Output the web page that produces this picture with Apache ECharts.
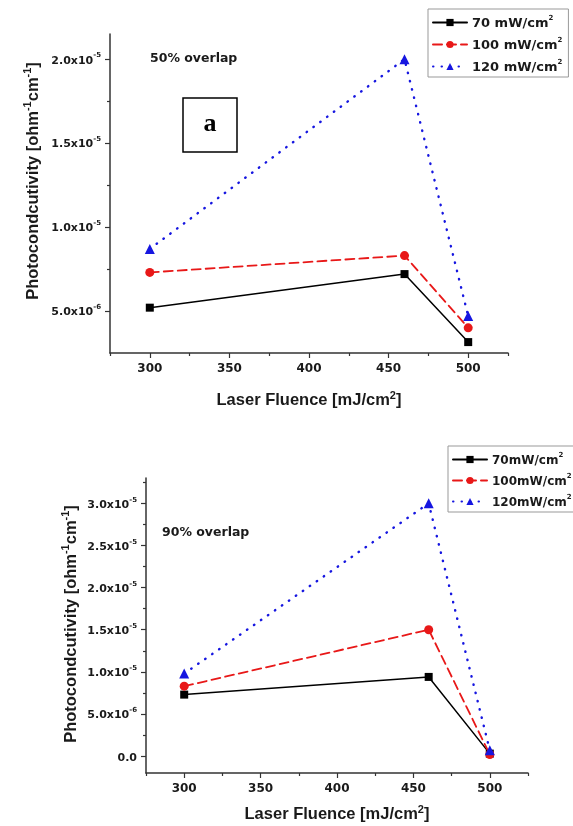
<!DOCTYPE html>
<html>
<head>
<meta charset="utf-8">
<script src="https://cdn.jsdelivr.net/npm/echarts@6/dist/echarts.min.js"></script>
<style>
  html, body { margin: 0; padding: 0; background: #fff; }
  #chart { width: 573px; height: 826px; }
</style>
</head>
<body>
<div id="chart"></div>
<script>
// x values (laser fluence, mJ/cm2)
const fluence = [300, 460, 500]

// (a) 50% overlap
const p70a = [5.2e-6, 7.2e-6, 3.15e-6]
const p100a = [7.3e-6, 8.3e-6, 4.0e-6]
const p120a = [8.7e-6, 2.0e-5, 4.7e-6]

// 90% overlap
const p70b = [7.3e-6, 9.4e-6, 3e-7]
const p100b = [8.3e-6, 1.5e-5, 2e-7]
const p120b = [9.8e-6, 3.0e-5, 7e-7]

const namesA = ['70 mW/cm2', '100 mW/cm2', '120 mW/cm2']
const namesB = ['70mW/cm2', '100mW/cm2', '120mW/cm2']

// ticks
const xMajor = [300, 350, 400, 450, 500]
const xMinor = [275, 325, 375, 425, 475, 525]
const yMajorA = [5e-6, 1e-5, 1.5e-5, 2e-5]
const yMinorA = [7.5e-6, 1.25e-5, 1.75e-5]
const yMajorB = [0, 5e-6, 1e-5, 1.5e-5, 2e-5, 2.5e-5, 3e-5]
const yMinorB = [2.5e-6, 7.5e-6, 1.25e-5, 1.75e-5, 2.25e-5, 2.75e-5, 3.25e-5]

const SANS = '"Liberation Sans", Arial, sans-serif'
const WIDE = '"DejaVu Sans", sans-serif'
const AX = '#333'
const TXT = '#1a1a1a'

function sci(v) {
  if (Math.abs(v) < 1e-12) return '{m|0.0}'
  const e = Math.floor(Math.log10(Math.abs(v)) + 1e-9)
  const m = (v / Math.pow(10, e)).toFixed(1)
  return `{m|${m}x10}{s|${e}}`
}

const sciRich = {
  m: { fontFamily: WIDE, fontWeight: 'bold', fontSize: 11, color: TXT, lineHeight: 14, verticalAlign: 'bottom' },
  s: { fontFamily: WIDE, fontWeight: 'bold', fontSize: 7, color: TXT, lineHeight: 9, verticalAlign: 'top' }
}

function xAxes(grid, gap) {
  return [
    {
      gridIndex: grid, type: 'value', min: 275, max: 525, position: 'bottom',
      axisLine: { onZero: false, lineStyle: { color: AX, width: 1.5 } },
      axisTick: { customValues: xMajor, length: 5, lineStyle: { color: AX, width: 1.2 } },
      axisLabel: { customValues: xMajor, margin: 10, fontFamily: WIDE, fontWeight: 'bold', fontSize: 12, color: TXT },
      splitLine: { show: false },
      name: '{t|Laser Fluence [mJ/cm}{s|2}{t|]}',
      nameLocation: 'middle', nameGap: gap,
      nameTextStyle: {
        rich: {
          t: { fontFamily: SANS, fontWeight: 'bold', fontSize: 16.5, color: TXT, lineHeight: 19, verticalAlign: 'bottom' },
          s: { fontFamily: SANS, fontWeight: 'bold', fontSize: 11, color: TXT, lineHeight: 12, verticalAlign: 'top' }
        }
      }
    },
    {
      gridIndex: grid, type: 'value', min: 275, max: 525, position: 'bottom',
      axisLine: { show: false, onZero: false },
      axisTick: { customValues: xMinor, length: 3, lineStyle: { color: AX, width: 1.2 } },
      axisLabel: { show: false },
      splitLine: { show: false }
    }
  ]
}

function yAxes(grid, min, max, major, minor, margin) {
  return [
    {
      gridIndex: grid, type: 'value', min: min, max: max, position: 'left',
      axisLine: { show: true, onZero: false, lineStyle: { color: AX, width: 1.5 } },
      axisTick: { show: true, customValues: major, length: 5, lineStyle: { color: AX, width: 1.2 } },
      axisLabel: { customValues: major, margin: margin, formatter: sci, rich: sciRich },
      splitLine: { show: false }
    },
    {
      gridIndex: grid, type: 'value', min: min, max: max, position: 'left',
      axisLine: { show: false, onZero: false },
      axisTick: { show: true, customValues: minor, length: 3, lineStyle: { color: AX, width: 1.2 } },
      axisLabel: { show: false },
      splitLine: { show: false }
    }
  ]
}

const styles = [
  { symbol: 'rect', size: 8, color: '#000000', type: 'solid', width: 1.5 },
  { symbol: 'circle', size: 9, color: '#e81818', type: [9, 5], width: 1.8 },
  { symbol: 'triangle', size: 10, color: '#1616e0', type: [0.5, 8], width: 2.4 }
]

function makeSeries(names, arrays, xi, yi) {
  return arrays.map((arr, k) => ({
    type: 'line',
    name: names[k],
    xAxisIndex: xi,
    yAxisIndex: yi,
    data: fluence.map((x, i) => [x, arr[i]]),
    symbol: styles[k].symbol,
    symbolSize: styles[k].size,
    showAllSymbol: true,
    itemStyle: { color: styles[k].color },
    lineStyle: { color: styles[k].color, width: styles[k].width, type: styles[k].type, cap: 'round' },
    emphasis: { disabled: true },
    z: 2 + k
  }))
}

function legend(names, left, top, fs, gap) {
  return {
    data: names,
    orient: 'vertical',
    left: left,
    top: top,
    selectedMode: false,
    backgroundColor: '#fff',
    borderColor: '#999',
    borderWidth: 1,
    padding: [6, 6, 3, 4],
    itemWidth: 34,
    itemHeight: 9,
    itemGap: gap,
    formatter: n => `{t|${n.slice(0, -1)}}{s|2}`,
    textStyle: {
      rich: {
        t: { fontFamily: WIDE, fontWeight: 'bold', fontSize: fs, color: TXT, lineHeight: 15, verticalAlign: 'bottom' },
        s: { fontFamily: WIDE, fontWeight: 'bold', fontSize: 7, color: TXT, lineHeight: 9, verticalAlign: 'top' }
      }
    }
  }
}

const titleRich = {
  s: { fontFamily: SANS, fontWeight: 'bold', fontSize: 11, fill: TXT, lineHeight: 12, verticalAlign: 'top' },
  t: { fontFamily: SANS, fontWeight: 'bold', fontSize: 16.5, fill: TXT, lineHeight: 19, verticalAlign: 'bottom' }
}

const chart = echarts.init(document.getElementById('chart'), null, { renderer: 'canvas' })

chart.setOption({
  animation: false,
  backgroundColor: '#fff',
  grid: [
    { left: 110, top: 34, width: 398, height: 319 },
    { left: 146, top: 478, width: 382, height: 295 }
  ],
  xAxis: [...xAxes(0, 37), ...xAxes(1, 31)],
  yAxis: [
    ...yAxes(0, 2.5e-6, 2.15e-5, yMajorA, yMinorA, 9),
    ...yAxes(1, -2e-6, 3.3e-5, yMajorB, yMinorB, 9)
  ],
  legend: [
    legend(namesA, 428, 9, 13, 7),
    legend(namesB, 448, 446, 12, 6)
  ],
  series: [
    ...makeSeries(namesA, [p70a, p100a, p120a], 0, 0),
    ...makeSeries(namesB, [p70b, p100b, p120b], 2, 2)
  ],
  graphic: [
    {
      type: 'text', x: 32, y: 181, rotation: Math.PI / 2,
      style: {
        text: '{t|Photocondcutivity [ohm}{s|-1}{t|cm}{s|-1}{t|]}',
        rich: titleRich, align: 'center', verticalAlign: 'middle'
      }
    },
    {
      type: 'text', x: 70, y: 624, rotation: Math.PI / 2,
      style: {
        text: '{t|Photocondcutivity [ohm}{s|-1}{t|cm}{s|-1}{t|]}',
        rich: titleRich, align: 'center', verticalAlign: 'middle'
      }
    },
    {
      type: 'text', x: 150, y: 59,
      style: { text: '50% overlap', fontFamily: WIDE, fontWeight: 'bold', fontSize: 12.5, fill: TXT, verticalAlign: 'middle' }
    },
    {
      type: 'text', x: 162, y: 533,
      style: { text: '90% overlap', fontFamily: WIDE, fontWeight: 'bold', fontSize: 12.5, fill: TXT, verticalAlign: 'middle' }
    },
    {
      type: 'rect', shape: { x: 183, y: 98, width: 54, height: 54 },
      style: { fill: '#fff', stroke: '#000', lineWidth: 1.5 }
    },
    {
      type: 'text', x: 210, y: 124,
      style: { text: 'a', fontFamily: '"Liberation Serif", "Times New Roman", serif', fontWeight: 'bold', fontSize: 26, fill: '#000', align: 'center', verticalAlign: 'middle' }
    }
  ]
})
</script>
</body>
</html>
